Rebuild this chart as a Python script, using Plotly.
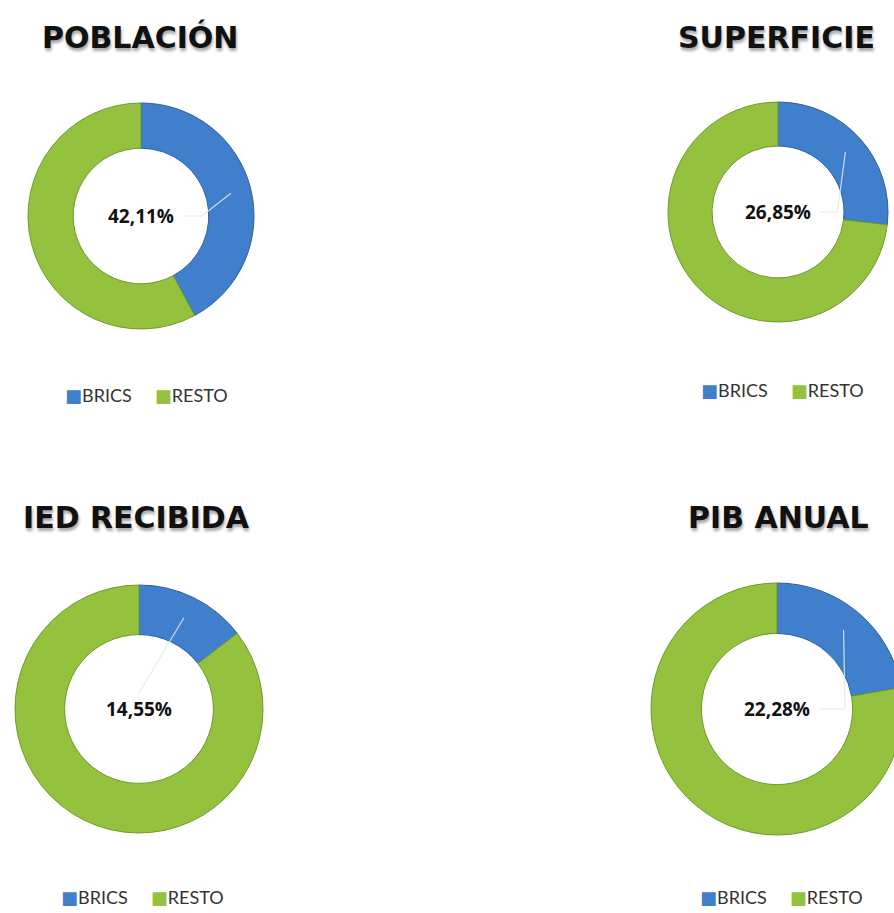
import math
import plotly.graph_objects as go

# data
labels = ["BRICS", "RESTO"]
titles = ["POBLACIÓN", "SUPERFICIE", "IED RECIBIDA", "PIB ANUAL"]
brics_pct = [42.11, 26.85, 14.55, 22.28]
resto_pct = [round(100 - v, 2) for v in brics_pct]

# figure is a bit wider than the window so the right-hand donuts get cut off like the original
W, H = 912, 913
BLUE = "#3f7fcc"
GREEN = "#94c23e"
HOLE = 0.6

# layout of each donut in window pixels
panels = [
    dict(cx=141, cy=216, r=113, tx=140, ty=37, lx=146, ly=395),
    dict(cx=778, cy=212, r=110, tx=776, ty=37, lx=782, ly=390),
    dict(cx=139, cy=709, r=124, tx=136, ty=517, lx=142, ly=897),
    dict(cx=777, cy=709, r=126, tx=778, ty=517, lx=781, ly=897),
]


def px(x):
    return x / W


def py(y):
    return 1 - y / H


fig = go.Figure()
annotations = []
shapes = []

for i, p in enumerate(panels):
    fig.add_trace(go.Pie(
        labels=labels,
        values=[brics_pct[i], resto_pct[i]],
        hole=HOLE,
        sort=False,
        direction="clockwise",
        rotation=0,
        textinfo="none",
        hoverinfo="label+value",
        marker=dict(colors=[BLUE, GREEN],
                    line=dict(color=["#2d5d9c", "#6e9a2c"], width=1)),
        domain=dict(x=[px(p["cx"] - p["r"]), px(p["cx"] + p["r"])],
                    y=[py(p["cy"] + p["r"]), py(p["cy"] - p["r"])]),
        showlegend=False,
    ))

    # title
    annotations.append(dict(
        text="<b>%s</b>" % titles[i], x=px(p["tx"]), y=py(p["ty"]),
        xref="paper", yref="paper", showarrow=False,
        xanchor="center", yanchor="middle",
        font=dict(family="DejaVu Sans, sans-serif", size=30, color="#111111",
                  shadow="1px 3px 3px rgba(0,0,0,0.35)"),
    ))
    # centre value
    annotations.append(dict(
        text="<b>%s%%</b>" % ("%.2f" % brics_pct[i]).replace(".", ","),
        x=px(p["cx"]), y=py(p["cy"]),
        xref="paper", yref="paper", showarrow=False,
        xanchor="center", yanchor="middle",
        font=dict(family="Open Sans, sans-serif", size=19, color="#111111"),
    ))
    # legend
    legend_text = "&nbsp;&nbsp;&nbsp;&nbsp;&nbsp;".join(
        '<span style="color:%s">■</span>%s' % (c, l) for c, l in zip([BLUE, GREEN], labels))
    annotations.append(dict(
        text=legend_text, x=px(p["lx"]), y=py(p["ly"]),
        xref="paper", yref="paper", showarrow=False,
        xanchor="center", yanchor="middle",
        font=dict(family="Lato, DejaVu Sans, sans-serif", size=18, color="#333333"),
    ))

    # leader line from label to the middle of the BRICS slice
    ang = math.radians(brics_pct[i] / 100 * 360 / 2)
    rr = p["r"] * 0.82
    ex, ey = p["cx"] + rr * math.sin(ang), p["cy"] - rr * math.cos(ang)
    if brics_pct[i] > 20:
        sx, sy = p["cx"] + 42, p["cy"]
        bx, by = p["cx"] + p["r"] * HOLE * 0.9, p["cy"]
        path = "M %f %f L %f %f L %f %f" % (px(sx), py(sy), px(bx), py(by), px(ex), py(ey))
    else:
        sx, sy = p["cx"], p["cy"] - 16
        path = "M %f %f L %f %f" % (px(sx), py(sy), px(ex), py(ey))
    shapes.append(dict(type="path", path=path, xref="paper", yref="paper",
                       line=dict(color="rgba(225,232,240,0.9)", width=1.2)))

fig.update_layout(
    width=W, height=H,
    margin=dict(l=0, r=0, t=0, b=0),
    paper_bgcolor="white",
    plot_bgcolor="white",
    annotations=annotations,
    shapes=shapes,
)

fig.write_html("out.html", config={"displayModeBar": False},
               post_script="document.body.style.margin='0';document.body.style.overflow='hidden';")
